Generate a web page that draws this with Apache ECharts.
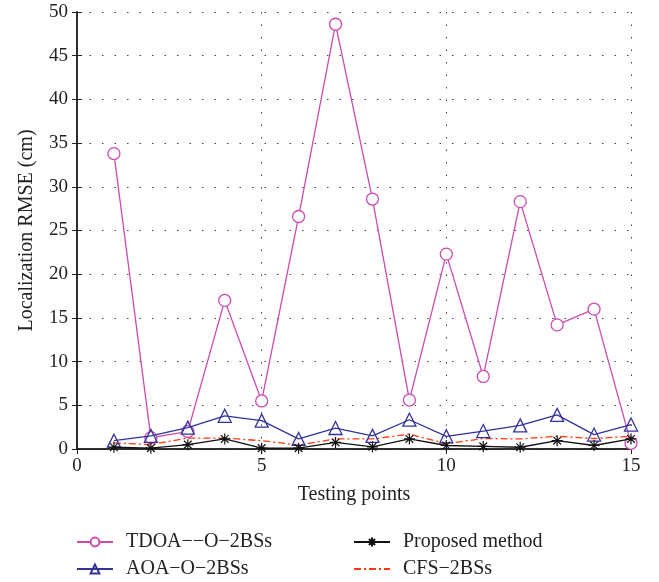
<!DOCTYPE html>
<html>
<head>
<meta charset="utf-8">
<script src="https://cdn.jsdelivr.net/npm/echarts@6/dist/echarts.min.js"></script>
<style>
  html, body { margin: 0; padding: 0; background: #fff; }
  #chart { width: 659px; height: 582px; }
</style>
</head>
<body>
<div id="chart"></div>
<script>
  // testing points
  var points = [1, 2, 3, 4, 5, 6, 7, 8, 9, 10, 11, 12, 13, 14, 15];
  var tdoa = [33.8, 1.3, 2.0, 17.0, 5.5, 26.6, 48.6, 28.6, 5.6, 22.3, 8.3, 28.3, 14.2, 16.0, 0.65];
  var aoa = [0.95, 1.5, 2.45, 3.8, 3.25, 1.15, 2.4, 1.5, 3.35, 1.45, 2.05, 2.7, 3.9, 1.65, 2.8];
  var proposed = [0.2, 0.1, 0.5, 1.15, 0.1, 0.1, 0.75, 0.25, 1.15, 0.4, 0.3, 0.2, 0.95, 0.4, 1.15];
  var cfs = [0.7, 0.5, 1.25, 1.25, 0.95, 0.45, 1.15, 1.15, 1.7, 0.6, 1.2, 1.15, 1.45, 1.2, 1.45];

  function pairs(vals) {
    return points.map(function (p, i) { return [p, vals[i]]; });
  }

  var serif = 'Liberation Serif';
  var star = 'path://M0,-1 L0,1 M-1,0 L1,0 M-0.7,-0.7 L0.7,0.7 M-0.7,0.7 L0.7,-0.7';

  var myChart = echarts.init(document.getElementById('chart'));
  myChart.setOption({
    animation: false,
    grid: { left: 77, right: 28, top: 12, bottom: 133 },
    legend: [
      {
        left: 76, top: 532, padding: 0, height: 60, orient: 'vertical', itemGap: 7, itemWidth: 36, itemHeight: 11,
        textStyle: { fontFamily: serif, fontSize: 20, color: '#222', padding: [0, 0, 0, 8] },
        data: ['TDOA\u2212\u2212O\u22122BSs', 'AOA\u2212O\u22122BSs']
      },
      {
        left: 353, top: 532, padding: 0, height: 60, orient: 'vertical', itemGap: 7, itemWidth: 36, itemHeight: 11,
        textStyle: { fontFamily: serif, fontSize: 20, color: '#222', padding: [0, 0, 0, 8] },
        data: ['Proposed method', { name: 'CFS\u22122BSs', itemStyle: { opacity: 0 } }]
      }
    ],
    xAxis: [
      {
        type: 'value', min: 0, max: 15, interval: 5,
        name: 'Testing points', nameLocation: 'middle', nameGap: 36,
        nameTextStyle: { fontFamily: serif, fontSize: 20, color: '#222' },
        axisLine: { lineStyle: { color: '#222', width: 1.5 } },
        axisTick: { inside: true, length: 5, lineStyle: { color: '#222' } },
        axisLabel: { fontFamily: serif, fontSize: 19, color: '#222', margin: 8 },
        splitLine: { show: true, lineStyle: { color: '#444', type: [1.5, 11], width: 1 } }
      },
      {
        type: 'value', min: 0, max: 15, interval: 5, position: 'top',
        axisLine: { lineStyle: { color: '#222', width: 1.5 } },
        axisTick: { inside: true, length: 5, lineStyle: { color: '#222' } },
        axisLabel: { show: false },
        splitLine: { show: false }
      }
    ],
    yAxis: [
      {
        type: 'value', min: 0, max: 50, interval: 5,
        name: 'Localization RMSE (cm)', nameLocation: 'middle', nameGap: 40,
        nameTextStyle: { fontFamily: serif, fontSize: 20, color: '#222' },
        axisLine: { show: true, lineStyle: { color: '#222', width: 1.5 } },
        axisTick: { show: true, inside: true, length: 5, lineStyle: { color: '#222' } },
        axisLabel: { fontFamily: serif, fontSize: 19, color: '#222', margin: 9 },
        splitLine: { show: true, lineStyle: { color: '#444', type: [1.5, 11], width: 1 } }
      },
      {
        type: 'value', min: 0, max: 50, interval: 5, position: 'right',
        axisLine: { show: true, lineStyle: { color: '#222', width: 1.5 } },
        axisTick: { show: true, inside: true, length: 5, lineStyle: { color: '#222' } },
        axisLabel: { show: false },
        splitLine: { show: false }
      }
    ],
    series: [
      {
        name: 'TDOA\u2212\u2212O\u22122BSs', type: 'line', data: pairs(tdoa), z: 3,
        symbol: 'circle', symbolSize: 12,
        lineStyle: { color: '#cc4bb0', width: 1.3 },
        itemStyle: { color: '#fff', borderColor: '#cc4bb0', borderWidth: 1.3 }
      },
      {
        name: 'AOA\u2212O\u22122BSs', type: 'line', data: pairs(aoa), z: 4,
        symbol: 'triangle', symbolSize: 13,
        lineStyle: { color: '#33339a', width: 1.3 },
        itemStyle: { color: 'rgba(255,255,255,0)', borderColor: '#33339a', borderWidth: 1.3 }
      },
      {
        name: 'Proposed method', type: 'line', data: pairs(proposed), z: 5,
        symbol: star, symbolSize: 11,
        lineStyle: { color: '#111', width: 1.3 },
        itemStyle: { color: '#111', borderColor: '#111', borderWidth: 1.2 }
      },
      {
        name: 'CFS\u22122BSs', type: 'line', data: pairs(cfs), z: 4,
        symbol: 'none',
        lineStyle: { color: '#ff3a10', width: 1.3, type: [7, 3, 2, 3] },
        itemStyle: { color: '#ff3a10' }
      }
    ]
  });
</script>
</body>
</html>
